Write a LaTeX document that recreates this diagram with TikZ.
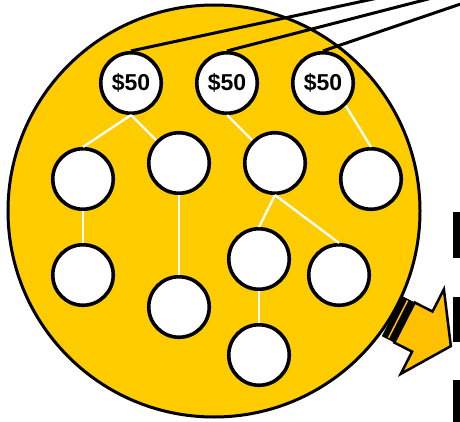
\documentclass[tikz,border=0pt]{standalone}
\usepackage{fontspec}
\setsansfont{Liberation Sans}
\usetikzlibrary{positioning}
\definecolor{cgold}{HTML}{FFCC00}
\definecolor{camber}{HTML}{FFC000}
\tikzset{
  every picture/.style={font=\sffamily, line width=1.2pt},
  coin/.style={circle, draw=black, fill=white, line width=3.6pt, minimum size=60.5pt, inner sep=0pt,
    font=\sffamily\bfseries\fontsize{23}{23}\selectfont},
  link/.style={draw=white, line width=2.3pt},
  wire/.style={draw=black, line width=3pt},
  bar/.style={fill=black},
}
\begin{document}
\begin{tikzpicture}[x=1pt, y=1pt]
  \useasboundingbox (0,0) rectangle (460,421);
  \clip (0,0) rectangle (460,421);
  % pool
  \draw[fill=cgold, line width=3pt] (214,210) circle (206);
  % top row
  \node[coin] (s1) at (131,338) {\$50};
  \node[coin] (s2) at (227,338) {\$50};
  \node[coin] (s3) at (323,338) {\$50};
  % the rest
  \node[coin] (a) at (83,242) {};
  \node[coin] (b) at (179,258) {};
  \node[coin] (c) at (275,258) {};
  \node[coin] (d) at (371,242) {};
  \node[coin] (e) at (83,146) {};
  \node[coin] (f) at (179,114) {};
  \node[coin] (g) at (259,162) {};
  \node[coin] (h) at (339,146) {};
  \node[coin] (i) at (259,66) {};
  \draw[link] (s1.south) -- (a.north);
  \draw[link] (s1.south) -- (b);
  \draw[link] (s2.south) -- (c);
  \draw[link] (s3.south east) -- (d.north);
  \draw[link] (a.south) -- (e.north);
  \draw[link] (b.south) -- (f.north);
  \draw[link] (c.south) -- (g.north);
  \draw[link] (c.south) -- (h.north);
  \draw[link] (g.south) -- (i.north);
  % wires leaving the picture
  \coordinate (w1) at (485,446);
  \coordinate (w2) at (521,446);
  \coordinate (w3) at (487,426);
  \draw[wire] (s1.north) -- (w1);
  \draw[wire] (s2.north) -- (w2);
  \draw[wire] (s3.north) -- (w3);
  % striped arrow
  \begin{scope}[shift={(404.5,98.5)}, rotate=-27]
    \fill[black] (-14,-22.5) rectangle (0,22.5);
    \fill[camber] (-8,-21) rectangle (-6.5,21);
    \draw[fill=camber, line width=2.5pt, line join=miter]
      (0,-22.5) -- (20,-22.5) -- (20,-47.5) -- (52,0) -- (20,47.5) -- (20,22.5) -- (0,22.5) -- cycle;
  \end{scope}
  % bars on the right edge
  \fill[bar] (453,163) rectangle (470,209);
  \fill[bar] (453,79) rectangle (470,124);
  \fill[bar] (453,-5) rectangle (470,41);
\end{tikzpicture}
\end{document}
